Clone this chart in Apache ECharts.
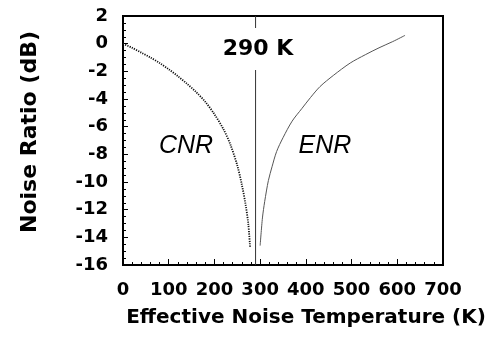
<!DOCTYPE html>
<html><head><meta charset="utf-8">
<script src="https://cdn.jsdelivr.net/npm/echarts@6/dist/echarts.min.js"></script>
<style>html,body{margin:0;padding:0;background:#fff}#c{width:494px;height:339px}</style>
</head><body><div id="c"></div>
<script>
// Cold noise ratio (dotted curve)
const cnrT  = [0, 20, 40, 60, 80, 100, 120, 140, 160, 180, 200, 220, 235, 250, 260, 268, 274, 278];
const cnrDb = [0, -0.3, -0.65, -1.0, -1.4, -1.85, -2.35, -2.9, -3.5, -4.2, -5.1, -6.2, -7.3, -8.8, -10.2, -11.6, -13.0, -14.7];
// Excess noise ratio (solid curve)
const enrT  = [300, 305, 310, 318, 326, 336, 350, 370, 391, 410, 431, 460, 497, 530, 560, 590, 617];
const enrDb = [-14.6, -12.6, -11.4, -9.9, -8.9, -7.8, -6.8, -5.6, -4.7, -3.9, -3.1, -2.3, -1.4, -0.8, -0.3, 0.15, 0.6];
// Reference line at 290 K
const refT  = [290, 290];
const refDb = [2, -16];
const xMin = 0, xMax = 700, xStep = 100;
const yMin = -16, yMax = 2, yStep = 2;
const xTitle = 'Effective Noise Temperature (K)';
const yTitle = 'Noise Ratio (dB)';
const refLabel = '290 K';
const cnrLabel = 'CNR';
const enrLabel = 'ENR';

const zip = (a, b) => a.map((v, i) => [v, b[i]]);
const bold = {fontFamily: 'DejaVu Sans', fontWeight: 'bold', color: '#000'};
const chart = echarts.init(document.getElementById('c'));
chart.setOption({
  animation: false,
  grid: {left: 123, right: 51, top: 16, bottom: 74, show: true, borderColor: '#000', borderWidth: 2},
  xAxis: {
    type: 'value', min: xMin, max: xMax, interval: xStep,
    axisLine: {show: true, onZero: false, lineStyle: {color: '#000', width: 2}},
    axisTick: {show: true, inside: true, length: 6, lineStyle: {color: '#000', width: 1}},
    minorTick: {show: true, splitNumber: 5, length: 3, lineStyle: {color: '#000', width: 1}},
    splitLine: {show: false},
    axisLabel: Object.assign({fontSize: 18, margin: 16}, bold),
    name: xTitle, nameLocation: 'middle', nameGap: 43,
    nameTextStyle: Object.assign({fontSize: 20, padding: [0, 0, 0, 46]}, bold)
  },
  yAxis: {
    type: 'value', min: yMin, max: yMax, interval: yStep,
    axisLine: {show: true, onZero: false, lineStyle: {color: '#000', width: 2}},
    axisTick: {show: true, inside: true, length: 5, lineStyle: {color: '#000', width: 1}},
    minorTick: {show: true, splitNumber: 4, length: 3, lineStyle: {color: '#000', width: 1}},
    splitLine: {show: false},
    axisLabel: Object.assign({fontSize: 18, margin: 15}, bold)
  },
  graphic: [
    {type: 'text', x: 30, y: 132, rotation: Math.PI / 2,
      style: {text: yTitle, font: 'bold 22px "DejaVu Sans"', fill: '#000', align: 'center', verticalAlign: 'middle'}},
    {type: 'text', x: 258, y: 49, z: 100,
      style: {text: refLabel, font: 'bold 22px "DejaVu Sans"', fill: '#000', align: 'center', verticalAlign: 'middle',
        backgroundColor: '#fff', padding: [10, 2, 10, 2]}},
    {type: 'text', x: 186, y: 146,
      style: {text: cnrLabel, font: 'italic 25px "Liberation Sans"', fill: '#000', align: 'center', verticalAlign: 'middle'}},
    {type: 'text', x: 325, y: 146,
      style: {text: enrLabel, font: 'italic 25px "Liberation Sans"', fill: '#000', align: 'center', verticalAlign: 'middle'}}
  ],
  series: [
    {type: 'line', data: zip(refT, refDb), symbol: 'none', silent: true,
      lineStyle: {color: '#333', width: 1}},
    {type: 'line', data: zip(cnrT, cnrDb), symbol: 'none', smooth: 0.3,
      lineStyle: {color: '#111', width: 1.8, type: [1.2, 1.2]}},
    {type: 'line', data: zip(enrT, enrDb), symbol: 'none', smooth: 0.3,
      lineStyle: {color: '#555', width: 1}}
  ]
});
</script></body></html>
